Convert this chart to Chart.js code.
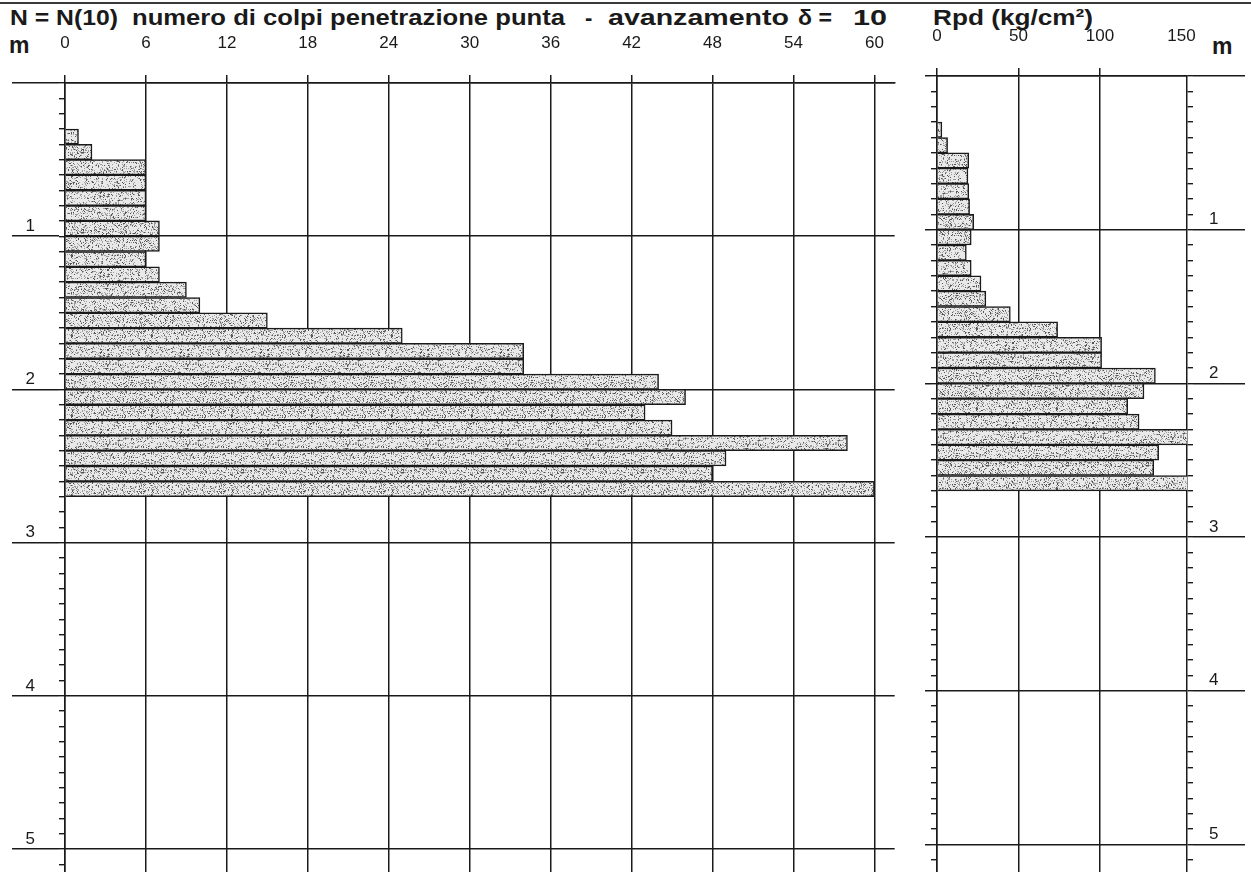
<!DOCTYPE html>
<html>
<head>
<meta charset="utf-8">
<script src="https://cdn.jsdelivr.net/npm/chart.js@4.4.0/dist/chart.umd.min.js"></script>
<style>
  body { margin: 0; background: #fff; width: 1251px; height: 872px; overflow: hidden; position: relative;
         font-family: "Liberation Sans", Arial, sans-serif; color: #1a1a1a; }
  #rule { position: absolute; left: 0; top: 2px; width: 1251px; height: 2px; background: #3a3a3a; }
  .t { position: absolute; font-weight: bold; white-space: pre; line-height: 1; transform-origin: 0 0; font-size: 22px; top: 7px; }
  #leftBox { position: absolute; left: 0; top: 0; width: 905px; height: 872px; }
  #rightBox { position: absolute; left: 905px; top: -7px; width: 346px; height: 879px; }
</style>
</head>
<body>
<div id="rule"></div>
<div class="t fit" data-w="108" style="left:10px">N = N(10)</div>
<div class="t fit" data-w="433" style="left:132px">numero di colpi penetrazione punta</div>
<div class="t" style="left:585px">-</div>
<div class="t fit" data-w="181" style="left:608px">avanzamento</div>
<div class="t fit" data-w="34" style="left:798px">δ =</div>
<div class="t fit" data-w="34" style="left:853px">10</div>
<div class="t fit" data-w="160" style="left:933px">Rpd (kg/cm²)</div>
<div class="t" style="left:9px;top:34px;font-size:23px">m</div>
<div class="t" style="left:1212px;top:35px;font-size:23px">m</div>
<div id="leftBox"><canvas id="cN" width="905" height="872"></canvas></div>
<div id="rightBox"><canvas id="cR" width="346" height="879"></canvas></div>
<script>
// depth of the top of each 10 cm step (m)
const depth = [0.3, 0.4, 0.5, 0.6, 0.7, 0.8, 0.9, 1.0, 1.1, 1.2, 1.3, 1.4,
               1.5, 1.6, 1.7, 1.8, 1.9, 2.0, 2.1, 2.2, 2.3, 2.4, 2.5, 2.6];
// N(10) blows per step
const nBlows = [1, 2, 6, 6, 6, 6, 7, 7, 6, 7, 9, 10,
                15, 25, 34, 34, 44, 46, 43, 45, 58, 49, 48, 60];
// dynamic point resistance Rpd (kg/cm2)
const rpd = [3, 6.5, 19.5, 19, 19.5, 20, 22.5, 21, 18, 21, 27, 30,
             45, 74, 101, 101, 134, 127, 117, 124, 157, 136, 133, 156];
const nTicks = [0, 6, 12, 18, 24, 30, 36, 42, 48, 54, 60];
const rpdTicks = [0, 50, 100, 150];
const step = 0.1;

const ink = '#1a1a1a';
const tickFont = { family: '"Liberation Sans", Arial, sans-serif', size: 17 };

// squeeze the heading pieces to the widths they have on the sheet
document.querySelectorAll('.fit').forEach(el => {
  const w = el.getBoundingClientRect().width;
  el.style.transform = 'scaleX(' + (el.dataset.w / w) + ')';
});

function stipple() {
  const c = document.createElement('canvas');
  c.width = c.height = 80;
  const g = c.getContext('2d');
  g.fillStyle = '#e9e9e9';
  g.fillRect(0, 0, 80, 80);
  let s = 7;
  for (let i = 0; i < 1900; i++) {
    s = (s * 16807) % 2147483647;
    const px = s % 80;
    s = (s * 16807) % 2147483647;
    const py = s % 80;
    g.fillStyle = (i % 3) ? '#9c9c9c' : '#555';
    g.fillRect(px, py, 1, 1);
  }
  return g.createPattern(c, 'repeat');
}
const fill = stipple();

function depthAxis(pos, weight, len, ymax, extra) {
  return Object.assign({
    type: 'linear', position: pos, reverse: true, min: 0, max: ymax, weight: weight, offset: false,
    ticks: { display: false, stepSize: step, includeBounds: false, maxTicksLimit: 200 },
    grid: { offset: false, drawOnChartArea: false, tickLength: len, color: ink, lineWidth: 1.4 },
    border: { display: false },
    afterFit(s) { s.width = len; }
  }, extra);
}

function majorTicks(padding) {
  return {
    display: true, stepSize: 1, includeBounds: false, padding: padding, labelOffset: -10,
    color: ink, font: tickFont,
    callback: v => v === 0 ? '' : v
  };
}

function valueAxis(max, stepSize, hideAt) {
  return {
    type: 'linear', position: 'top', min: 0, max: max,
    ticks: { stepSize: stepSize, includeBounds: false, padding: 21, color: ink, font: tickFont, maxRotation: 0 },
    grid: {
      tickLength: 8, lineWidth: 1.5,
      color: c => (c.tick && c.tick.value === hideAt) ? 'rgba(0,0,0,0)' : ink
    },
    border: { display: true, color: ink, width: 1.5 },
    afterFit(s) { s.height = 83; }
  };
}

new Chart(document.getElementById('cN'), {
  type: 'bar',
  data: {
    datasets: [{
      data: depth.map((d, i) => ({ x: nBlows[i], y: d + step / 2 })),
      yAxisID: 'yMinor',
      backgroundColor: fill,
      borderColor: ink,
      borderWidth: 1.5,
      barPercentage: 1,
      categoryPercentage: 1
    }]
  },
  options: {
    indexAxis: 'y',
    responsive: false,
    animation: false,
    layout: { padding: { left: 12, right: 5, top: 0, bottom: 0 } },
    plugins: { legend: { display: false }, tooltip: { enabled: false } },
    scales: {
      x: Object.assign(valueAxis(61.5, 6, null), {
        afterBuildTicks(s) { s.ticks = nTicks.map(v => ({ value: v })); }
      }),
      yMinor: depthAxis('left', 0, 6, 5.15, { border: { display: true, color: ink, width: 1.5 } }),
      yMajor: depthAxis('left', 1, 47, 5.15, {
        ticks: majorTicks(-23),
        grid: { offset: false, drawOnChartArea: true, tickLength: 47, color: ink, lineWidth: 1.5 }
      })
    }
  }
});

new Chart(document.getElementById('cR'), {
  type: 'bar',
  data: {
    datasets: [{
      data: depth.map((d, i) => ({ x: rpd[i], y: d + step / 2 })),
      yAxisID: 'yMinorL',
      backgroundColor: fill,
      borderColor: ink,
      borderWidth: 1.5,
      barPercentage: 1,
      categoryPercentage: 1,
      clip: 0
    }]
  },
  options: {
    indexAxis: 'y',
    responsive: false,
    animation: false,
    layout: { padding: { left: 20, right: 6, top: 0, bottom: 0 } },
    plugins: { legend: { display: false }, tooltip: { enabled: false } },
    scales: {
      x: Object.assign(valueAxis(153.4, 50, 150), {
        afterBuildTicks(s) { s.ticks = rpdTicks.map(v => ({ value: v })); }
      }),
      yMinorL: depthAxis('left', 0, 6, 5.18, { border: { display: true, color: ink, width: 1.5 } }),
      yMajorL: depthAxis('left', 1, 6, 5.18, {
        ticks: { display: false, stepSize: 1, includeBounds: false },
        grid: { offset: false, drawOnChartArea: true, tickLength: 6, color: ink, lineWidth: 1.5 }
      }),
      yMinorR: depthAxis('right', 0, 6, 5.18, { border: { display: true, color: ink, width: 1.5 } }),
      yMajorR: depthAxis('right', 1, 52, 5.18, {
        ticks: majorTicks(-36),
        grid: { offset: false, drawOnChartArea: false, tickLength: 52, color: ink, lineWidth: 1.5 }
      })
    }
  }
});
</script>
</body>
</html>
